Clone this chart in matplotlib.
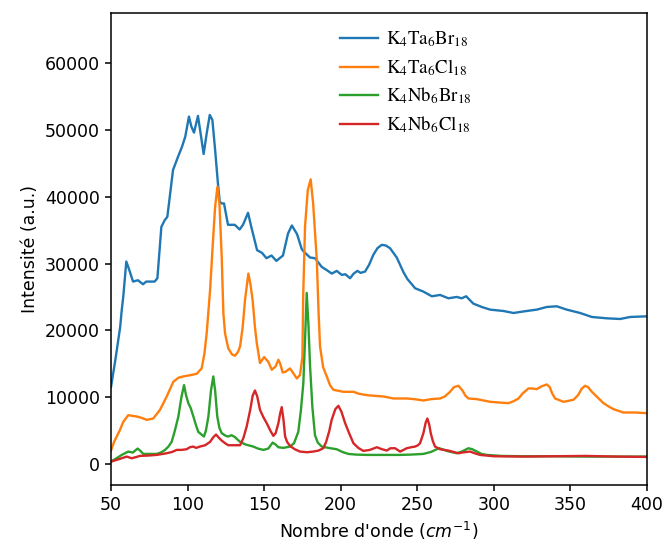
import matplotlib
matplotlib.use("Agg")
import matplotlib.pyplot as plt

# wavenumber (cm-1) / intensity pairs
wn_ta_br = [50, 53, 56, 57, 58, 60, 62, 64.4, 67.6, 70.9, 73, 78.5, 80.3, 82.9, 85.1, 86.8,
            90.5, 93.8, 96.4, 98.5, 100.9, 102.5, 104.2, 106.8, 108.5, 110.5, 112.5, 114.5,
            116.2, 118, 119.9, 121, 122.1, 123.8, 126.4, 130.8, 134, 136.2, 139.5, 141.6,
            145.4, 148.6, 151.5, 154.8, 158, 162.3, 165.6, 168.1, 171.5, 174.5, 175.8, 180,
            183.2, 187.6, 191, 194.2, 197.4, 200.7, 203, 206.1, 208.5, 210.9, 213, 215.9,
            218.5, 221.3, 224, 226.8, 229.5, 232.2, 236.6, 241, 243.5, 248.6, 254, 259.5,
            264.9, 270.3, 275.8, 279, 281.9, 286.6, 292.1, 297.6, 306.2, 312.8, 321.5, 328,
            334.6, 341.1, 347.6, 356.3, 364, 373.8, 382.5, 389, 400]
i_ta_br = [11500, 15800, 20500, 23000, 25000, 30300, 29000, 27300, 27500, 26900, 27300, 27300,
           27800, 35500, 36500, 37000, 44000, 46000, 47500, 49000, 52000, 50500, 49600, 52100,
           49500, 46400, 49500, 52250, 51500, 47000, 41800, 39300, 39000, 39000, 35800, 35800,
           35100, 35800, 37600, 35500, 32000, 31600, 30800, 31200, 30400, 31200, 34500, 35700,
           34400, 32200, 31800, 30900, 30800, 29500, 29000, 28500, 28900, 28300, 28400, 27800,
           28500, 28900, 28600, 28800, 29800, 31300, 32300, 32800, 32700, 32300, 30900, 28700,
           27700, 26300, 25800, 25100, 25300, 24800, 25000, 24800, 25100, 24000, 23500, 23100,
           22900, 22600, 22900, 23100, 23500, 23600, 23100, 22600, 22000, 21800, 21700, 22000,
           22100]

wn_ta_cl = [50, 52, 55.9, 58, 61.3, 64, 66.8, 70, 73.3, 77.6, 82, 86.4, 90.7, 94, 97.2, 102,
            106, 109.2, 111, 112.5, 114.7, 116.5, 118, 119.5, 120.8, 122.3, 123.4, 124.5,
            126.6, 129, 131, 133, 134.3, 136, 137.5, 139.7, 141, 142.5, 144, 145.2, 147.3,
            150, 151.5, 152.7, 155, 157.5, 159.3, 160.5, 162.1, 164, 166.9, 169, 171.3, 173.4,
            175, 175.5, 176.7, 178.5, 180.4, 182, 184.4, 185.5, 186.5, 188.5, 190.9, 193,
            195.2, 201.7, 208.3, 212, 217, 222, 227.9, 234.4, 243.1, 248, 254, 259, 264.9,
            268, 271.4, 274, 276.9, 279.5, 281.5, 283.4, 288.9, 297.6, 303, 309.6, 313, 316.1,
            319, 322.6, 325, 328.1, 331, 334.6, 336.5, 338, 340, 345.5, 352, 355, 357.5,
            359.6, 361.5, 364, 368, 371.6, 375, 378.1, 384.6, 392, 400]
i_ta_cl = [2000, 3300, 5100, 6300, 7300, 7200, 7100, 6900, 6600, 6800, 8100, 10100, 12300,
           12900, 13100, 13300, 13500, 14300, 16500, 19600, 26000, 33000, 38500, 41500, 39000,
           31000, 22500, 19500, 17300, 16400, 16200, 16800, 17600, 20500, 24500, 28500, 27000,
           24500, 20500, 18100, 15100, 16000, 15600, 15300, 14100, 14600, 15600, 15000, 13700,
           13800, 14300, 13600, 12800, 13300, 16000, 25000, 35500, 41000, 42600, 39000, 30500,
           23000, 17600, 14500, 13100, 11800, 11100, 10800, 10800, 10500, 10300, 10200, 10100,
           9800, 9800, 9700, 9500, 9700, 9800, 10100, 10800, 11500, 11700, 11000, 10200, 9800,
           9700, 9300, 9200, 9100, 9400, 9800, 10600, 11300, 11300, 11200, 11600, 11900, 11500,
           10600, 9800, 9300, 9600, 10300, 11300, 11700, 11500, 10800, 9900, 9100, 8600, 8200,
           7700, 7700, 7600]

wn_nb_br = [50, 54, 57, 61.3, 64.2, 67.4, 69, 71.1, 75, 79.8, 82.5, 85.3, 87.5, 89.6, 91.5,
            94, 96, 97.7, 99, 100.5, 102, 103.8, 105.5, 107, 110.7, 112, 113.6, 115.3, 116.8,
            118, 119.4, 120.8, 122.3, 125, 126.5, 128.8, 131, 134.3, 138, 142.9, 146, 149.5,
            152.7, 155.6, 157.5, 159.3, 162.5, 166.9, 169.5, 172.3, 174, 175.6, 176.7, 177.8,
            178.9, 180, 181.5, 183.2, 185, 187.6, 192, 197.4, 201, 205, 210, 217, 225, 238.8,
            246, 254, 259, 262.7, 264.4, 270, 275.8, 279.5, 283.4, 286, 288.9, 292, 295.4, 305,
            320, 340, 360, 380, 400]
i_nb_br = [350, 900, 1350, 1850, 1700, 2300, 2000, 1500, 1500, 1500, 1700, 2100, 2600, 3300,
           4800, 7100, 10000, 11800, 10300, 9100, 8400, 7100, 5800, 4800, 4100, 5000, 7100,
           11000, 13100, 11000, 7100, 5400, 4600, 4200, 4100, 4300, 4000, 3300, 2900, 2600,
           2300, 2100, 2300, 3200, 2900, 2500, 2400, 2600, 3100, 4800, 8000, 12100, 18500,
           25600, 21000, 14600, 8500, 4300, 3200, 2600, 2400, 2200, 1800, 1500, 1400, 1350,
           1350, 1350, 1400, 1500, 1800, 2200, 2350, 1900, 1600, 1900, 2350, 2200, 1850, 1500,
           1350, 1200, 1150, 1150, 1100, 1100, 1100]

wn_nb_cl = [50, 55, 60.3, 63.5, 66, 68.9, 74, 79.8, 86.4, 90, 92.9, 96, 99.4, 101.5, 103.8,
            105.5, 108.1, 111.5, 114.7, 116.8, 118.6, 120.5, 122.3, 124.5, 126.6, 130, 134.3,
            136.5, 138.6, 141, 142.5, 144, 145.5, 147.3, 149.5, 151.7, 153.8, 156, 157.5,
            159.3, 160.5, 161.5, 162.6, 163.7, 165, 166.9, 170, 173.4, 178, 182.1, 185.5,
            188.6, 190.5, 192.5, 194.1, 196.5, 198.5, 200.5, 202.9, 205.5, 208.3, 211.5,
            214.8, 219, 223.6, 227, 230.1, 232.5, 235.5, 238.8, 241, 243.1, 246, 248.6, 250.5,
            251.8, 254, 255.5, 256.6, 257.8, 258.8, 260.2, 261.6, 264.9, 270.3, 276.9, 280.5,
            284.5, 287.5, 291, 300, 320, 340, 360, 380, 400]
i_nb_cl = [350, 700, 1100, 850, 1000, 1200, 1250, 1350, 1600, 1800, 2100, 2100, 2200, 2500,
           2600, 2400, 2600, 2800, 3300, 4000, 4400, 3900, 3500, 3100, 2800, 2800, 2800, 3900,
           5600, 8200, 10200, 11000, 10100, 8100, 7000, 6100, 5100, 4200, 4600, 6100, 7600,
           8500, 6700, 4100, 3300, 2700, 2200, 1850, 1750, 1850, 2000, 2350, 3300, 4900, 6600,
           8200, 8700, 7800, 6100, 4600, 3100, 2400, 1950, 2100, 2500, 2200, 2000, 2350, 2350,
           1850, 2100, 2350, 2500, 2600, 2800, 3100, 4600, 6200, 6800, 5900, 4600, 3400, 2600,
           2200, 2000, 1600, 1750, 1850, 1600, 1350, 1150, 1100, 1150, 1200, 1100, 1050]

labels = [r'$\mathrm{K_4Ta_6Br_{18}}$', r'$\mathrm{K_4Ta_6Cl_{18}}$',
          r'$\mathrm{K_4Nb_6Br_{18}}$', r'$\mathrm{K_4Nb_6Cl_{18}}$']

fig = plt.figure(figsize=(6.67, 5.44), dpi=100)
ax = fig.add_axes([0.1664, 0.1085, 0.8036, 0.8675])

lw = 1.7
ax.plot(wn_ta_br, i_ta_br, lw=lw, label=labels[0])
ax.plot(wn_ta_cl, i_ta_cl, lw=lw, label=labels[1])
ax.plot(wn_nb_br, i_nb_br, lw=lw, label=labels[2])
ax.plot(wn_nb_cl, i_nb_cl, lw=lw, label=labels[3])

ax.set_xlim(50, 400)
ax.set_ylim(-3150, 67500)
ax.set_xticks(range(50, 401, 50))
ax.set_yticks(range(0, 60001, 10000))
ax.tick_params(labelsize=12.5, length=4.5, width=1.1)
for s in ax.spines.values():
    s.set_linewidth(1.1)

ax.set_xlabel(r"Nombre d'onde ($cm^{-1}$)", fontsize=12.5)
ax.set_ylabel("Intensité (a.u.)", fontsize=12.5)

ax.legend(loc='upper left', bbox_to_anchor=(0.414, 0.981), borderaxespad=0,
          frameon=False, handlelength=2.0, handletextpad=0.45, labelspacing=0.42,
          prop=dict(family='Liberation Serif', size=13.5, math_fontfamily='stix'))

fig.savefig("out.png", dpi=100)
